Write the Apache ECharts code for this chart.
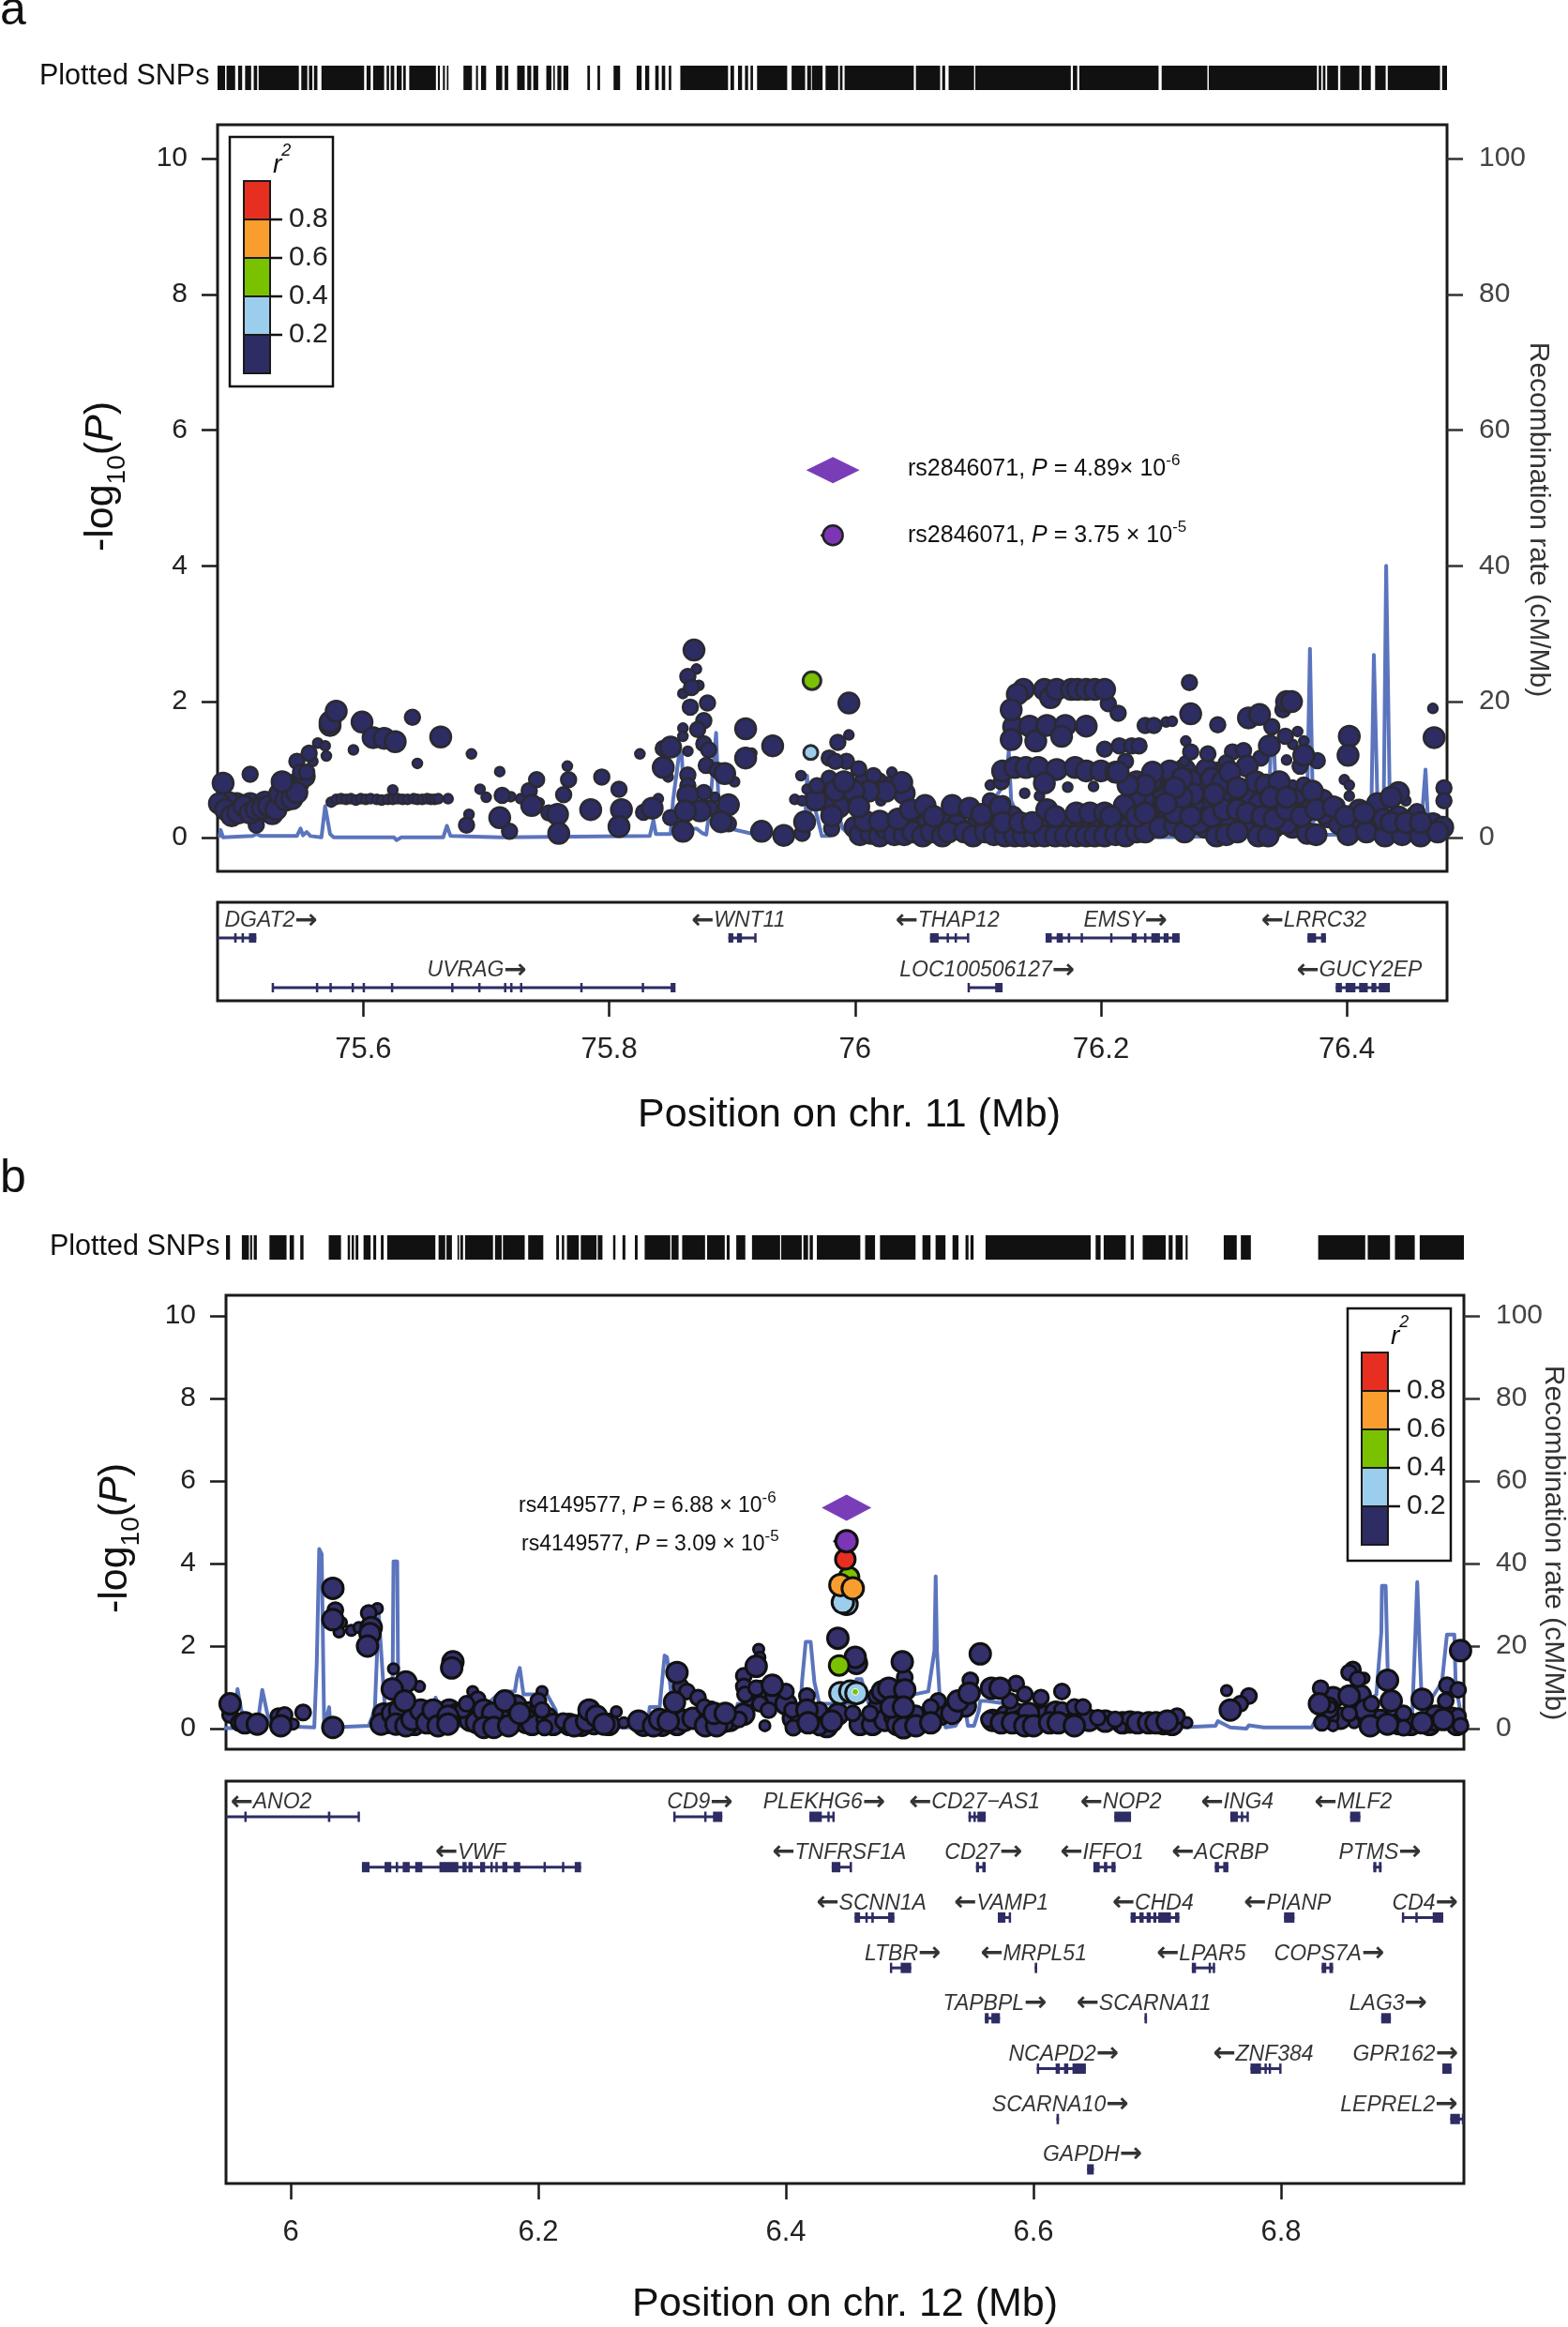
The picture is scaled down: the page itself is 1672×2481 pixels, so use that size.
<!DOCTYPE html>
<html><head><meta charset="utf-8">
<style>html,body{margin:0;padding:0;background:#fff}#c{width:1672px;height:2481px}</style>
<script src="https://cdn.jsdelivr.net/npm/echarts@6/dist/echarts.min.js"></script>
</head><body><div id="c"></div>
<script>
// ---------- Panel a: chr 11 ----------
const rugA=[[75.4811,75.4876],[75.4888,75.4958],[75.4982,75.5015],[75.5039,75.5088],[75.5109,75.5137],[75.5149,75.5476],[75.5496,75.5545],[75.5558,75.5586],[75.5599,75.5627],[75.566,75.6007],[75.6027,75.606],[75.608,75.617],[75.619,75.621],[75.6223,75.6252],[75.6272,75.6313],[75.6325,75.6346],[75.6374,75.6591],[75.6607,75.6623],[75.6648,75.6664],[75.668,75.6693],[75.6815,75.6884],[75.6917,75.6933],[75.6958,75.6999],[75.7081,75.713],[75.715,75.7179],[75.7252,75.7313],[75.7334,75.7366],[75.7383,75.7423],[75.7489,75.753],[75.7546,75.7558],[75.7579,75.7611],[75.7628,75.7668],[75.7823,75.7844],[75.7905,75.7926],[75.8036,75.8089],[75.8224,75.8264],[75.8293,75.8326],[75.8375,75.8403],[75.8428,75.8456],[75.8485,75.8505],[75.8579,75.8967],[75.8987,75.9016],[75.9048,75.9081],[75.9105,75.913],[75.915,75.917],[75.9203,75.9448],[75.9484,75.9594],[75.9611,75.9642],[75.9649,75.9736],[75.976,75.9863],[75.9877,75.9898],[75.9915,76.0478],[76.0495,76.0692],[76.0709,76.0733],[76.0761,76.0968],[76.0978,76.1755],[76.1772,76.1807],[76.1824,76.2469],[76.2494,76.2866],[76.2877,76.3757],[76.3771,76.3792],[76.3805,76.3826],[76.384,76.3929],[76.3947,76.4102],[76.412,76.4195],[76.423,76.4316],[76.4333,76.4758],[76.4775,76.4815]];
const snpA_large=[[75.486,.80],[75.483,.50],[75.488,.41],[75.493,.32],[75.498,.36],[75.503,.46],[75.508,.36],[75.513,.41],[75.518,.43],[75.523,.46],[75.529,.41],[75.532,.64],[75.537,.55],[75.542,.57],[75.546,.66],[75.534,.82],[75.573,1.65],[75.573,1.70],[75.578,1.86],[75.599,1.70],[75.608,1.47],[75.617,1.46],[75.626,1.41],[75.663,1.48],[75.711,.29],[75.737,.47],[75.758,.34],[75.759,.06],[75.785,.41],[75.810,.41],[75.808,.16],[75.835,.43],[75.850,1.33],[75.844,1.03],[75.869,2.76],[75.894,.94],[75.864,.62],[75.874,.39],[75.862,.39],[75.860,.09],[75.897,.48],[75.891,.23],[75.911,1.60],[75.911,1.17],[75.933,1.35],[75.924,.09],[75.942,.03],[75.959,.23],[75.984,.69],[75.981,.32],[75.995,1.98],[76.005,.64],
[76.137,2.18],[76.132,2.11],[76.154,2.18],[76.159,2.06],[76.164,2.18],[76.176,2.18],[76.181,2.18],[76.188,2.18],[76.195,2.18],[76.203,2.18],[76.129,1.63],[76.127,1.88],[76.127,1.44],[76.142,1.64],[76.147,1.42],[76.156,1.65],[76.171,1.65],[76.168,1.49],[76.188,1.64],[76.120,.98],[76.130,1.03],[76.139,1.03],[76.149,1.03],[76.164,1.00],[76.179,1.03],[76.188,.98],[76.200,.98],[76.212,.96],[76.154,.80],[76.241,.84],[76.256,.98],[76.273,1.82],[76.273,.84],[76.275,.64],[76.038,.81],[76.320,1.76],[76.329,1.81],[76.337,1.35],[76.319,1.05],[76.365,1.21],[76.372,.68],[76.402,1.49],[76.401,1.21],[76.442,.66],[76.436,.59],[76.471,1.47],[76.351,2.00],[76.355,2.00],
[76.004,.04],[76.013,.06],[76.020,.02],[76.025,.13],[76.032,.04],[76.040,.04],[76.047,.08],[76.055,.02],[76.062,.08],[76.071,.02],[76.076,.08],[76.089,.08],[76.096,.02],[76.106,.08],[76.113,.04],[76.122,.02],[76.130,.02],[76.137,.02],[76.146,.02],[76.154,.02],[76.163,.02],[76.171,.02],[76.180,.02],[76.188,.02],[76.195,.02],[76.203,.02],[76.212,.04],[76.220,.02],[76.229,.08],[76.236,.08],[76.248,.15],[76.260,.18],[76.268,.08],[76.280,.22],[76.294,.02],[76.302,.04],[76.311,.08],[76.328,.02],[76.336,.02],[76.351,.20],[76.368,.06],[76.375,.04],[76.401,.04],[76.416,.08],[76.431,.02],[76.445,.04],[76.460,.02],[76.474,.08],
[76.008,.24],[76.020,.24],[76.035,.27],[76.045,.41],[76.057,.47],[76.064,.31],[76.079,.47],[76.093,.43],[76.103,.34],[76.118,.45],[76.120,.22],[76.134,.22],[76.144,.22],[76.156,.41],[76.163,.31],[76.180,.36],[76.191,.36],[76.203,.36],[76.219,.47],[76.208,.31],[76.229,.31],[76.236,.36],[76.253,.45],[76.260,.36],[76.273,.31],[76.290,.31],[76.300,.41],[76.311,.41],[76.319,.36],[76.331,.31],[76.341,.27],[76.351,.41],[76.363,.31],[76.375,.41],[76.389,.45],[76.399,.31],[76.414,.36],[76.430,.27],[76.436,.22],[76.448,.22],[76.460,.22],
[76.290,.87],[76.299,.82],[76.292,.64],[76.305,.96],[76.326,.82],[76.311,.73],[76.334,.77],[76.345,.82],[76.338,.59],[76.351,.59],[76.229,.82],[76.242,.96],[76.266,.87],[76.266,.59],[76.260,.73],[76.253,.50],[76.236,.77],[76.222,.77],[76.214,.96],[76.025,.68],[76.011,.68],[75.999,.68],[76.003,.45],[75.991,.82]];
const snpA_band=[[76.000,.15],[76.016,.14],[76.028,.16],[76.036,.15],[76.044,.18],[76.052,.14],[76.059,.2],[76.067,.17],[76.074,.22],[76.083,.18],[76.100,.2],[76.110,.16],[76.116,.14],[76.125,.12],[76.128,.3],[76.140,.12],[76.150,.12],[76.158,.14],[76.168,.15],[76.175,.16],[76.184,.14],[76.192,.12],[76.199,.15],[76.207,.14],[76.216,.16],[76.224,.17],[76.232,.2],[76.240,.22],[76.252,.22],[76.264,.25],[76.276,.2],[76.285,.15],[76.297,.14],[76.306,.2],[76.316,.18],[76.323,.15],[76.332,.14],[76.340,.14],[76.346,.22],[76.356,.15],[76.359,.4],[76.370,.5],[76.380,.55],[76.385,.3],[76.394,.2],[76.406,.18],[76.410,.4],[76.420,.3],[76.425,.5],[76.437,.1],[76.442,.3],[76.452,.12],[76.456,.3],[76.465,.1],[76.470,.2],[76.478,.15],
[76.295,.55],[76.302,.5],[76.314,.6],[76.322,.6],[76.329,.5],[76.340,.45],[76.347,.6],[76.356,.55],[76.360,.65],[76.283,.45],[76.275,.5],[76.247,.5],[76.235,.55],[76.228,.6],[76.248,.8],[76.262,.9],[76.280,.7],[76.296,.95],[76.286,1.0],[76.268,1.0],[76.250,.7],[76.243,.82],
[75.995,.55],[75.987,.45],[76.002,.6],[76.018,.8],[76.030,.75],[76.040,.65],[76.008,.8],[75.975,.55],[75.968,.55],[75.988,.78],[75.497,.5],[75.508,.5],[75.520,.52],[75.530,.52],[75.490,.52],[75.502,.38],[75.514,.35],[75.526,.35],[75.539,.7],[75.547,.8],[75.552,.9]];
const snpA_mid=[[75.508,.93],[75.513,.18],[75.546,1.12],[75.549,.96],[75.554,.96],[75.556,1.24],[75.640,1.77],[75.684,.18],[75.719,.09],[75.713,.62],[75.735,.69],[75.741,.85],[75.751,.36],[75.767,.85],[75.763,.63],[75.794,.89],[75.808,.71],[75.828,.37],[75.844,1.31],[75.864,2.37],[75.867,2.21],[75.866,1.92],[75.880,1.98],[75.877,1.72],[75.872,1.59],[75.877,1.38],[75.881,1.29],[75.864,.92],[75.879,1.06],[75.888,.99],[75.864,.76],[75.877,.66],[75.850,.29],[75.882,.43],[75.897,.20],[75.957,.06],[75.969,.76],[75.979,1.17],[75.986,1.40],[75.993,1.12],[75.984,1.12],[75.979,.87],[75.981,.13],[76.003,1.01],
[76.206,1.97],[76.214,1.83],[76.203,1.30],[76.215,1.35],[76.225,1.35],[76.231,1.35],[76.220,1.12],[76.236,1.65],[76.243,1.65],[76.272,2.28],[76.295,1.66],[76.273,1.26],[76.287,1.23],[76.307,1.26],[76.316,1.28],[76.302,1.10],[76.339,1.63],[76.350,1.49],[76.330,1.17],[76.348,1.88],[76.376,1.13],[76.362,1.05],[76.365,.77],[76.392,.47],[76.382,.31],[76.415,.38],[76.457,.38],[76.479,.73],[76.479,.54],[76.476,.08],[76.119,.82],[76.120,.50],[76.110,.54],[76.015,.91]];
const snpA_small=[[75.563,1.39],[75.559,1.12],[75.569,1.35],[75.570,1.20],[75.592,1.29],[75.644,1.09],[75.688,1.23],[75.624,.70],[75.669,.57],[75.686,.34],[75.695,.71],[75.700,.59],[75.711,.97],[75.720,.60],[75.728,.57],[75.743,.51],[75.766,1.05],[75.840,.57],[75.825,1.23],[75.848,.89],[75.871,2.48],[75.873,2.24],[75.860,2.12],[75.860,1.61],[75.860,1.49],[75.864,1.27],[75.886,.59],[75.902,.82],[75.916,1.24],[75.956,.91],[75.961,.71],[75.951,.56],[75.957,.54],[75.995,1.51],[75.995,.88],
[75.574,.52],[75.578,.56],[75.582,.57],[75.586,.56],[75.590,.57],[75.594,.55],[75.598,.57],[75.602,.56],[75.606,.57],[75.611,.56],[75.615,.55],[75.620,.56],[75.624,.56],[75.628,.57],[75.632,.56],[75.636,.56],[75.641,.57],[75.644,.56],[75.648,.56],[75.652,.57],[75.655,.56],[75.658,.56],[75.661,.57],
[76.138,.65],[76.150,.61],[76.173,.74],[76.194,.75],[76.110,.77],[76.253,1.70],[76.258,1.71],[76.269,1.42],[76.268,1.12],[76.360,1.56],[76.365,1.42],[76.356,1.37],[76.351,1.14],[76.398,.85],[76.402,.77],[76.402,.61],[76.448,.54],[76.462,.24],[76.470,1.90],[75.994,1.14],[76.004,1.03],[76.030,.96],[76.021,.54],[76.356,.77]];
const snpA_green=[[75.965,2.31]];
const snpA_blue=[[75.964,1.25]];
const leadA_circle=[[75.982,4.45]];
const leadA_diamond=[[75.982,5.41]];
const recombA=[[75.483,0],[75.484,1.1],[75.486,0],[75.510,.2],[75.513,.5],[75.517,.2],[75.546,.2],[75.549,1.3],[75.551,.3],[75.554,.8],[75.557,.2],[75.566,0],[75.569,4.6],[75.573,.5],[75.576,0],[75.625,0],[75.627,-.4],[75.631,0],[75.665,0],[75.668,1.7],[75.671,.2],[75.711,0],[75.833,.2],[75.836,2.5],[75.838,.5],[75.850,.5],[75.852,5.5],[75.857,12.4],[75.859,12.4],[75.862,1.3],[75.871,1.3],[75.876,.6],[75.879,.4],[75.882,4.6],[75.887,15.4],[75.889,4.6],[75.898,1.3],[75.915,.6],[75.959,.6],[75.961,9.1],[75.963,3.6],[75.966,5.2],[75.969,3.2],[75.973,.2],[75.979,.2],[75.981,8.2],[75.986,3.6],[75.990,1.3],[75.996,.4],[76.093,.4],[76.123,8.2],[76.125,12.8],[76.127,5.4],[76.140,.3],[76.236,0],[76.280,.1],[76.336,.4],[76.338,12.4],[76.341,12.4],[76.343,3.6],[76.362,.1],[76.368,8.2],[76.370,27.8],[76.372,8.2],[76.373,.4],[76.416,.4],[76.420,4.5],[76.422,26.9],[76.425,4.5],[76.428,3.6],[76.430,4.5],[76.432,40],[76.435,4.5],[76.440,.4],[76.460,.4],[76.464,10],[76.466,2.7],[76.471,.4],[76.481,.4]];
const genesA=[
{name:'DGAT2',dir:1,label:75.525,row:0,span:[75.4815,75.513],exons:[[75.495,75.497],[75.501,75.503],[75.507,75.513]]},
{name:'UVRAG',dir:1,label:75.6925,row:1,span:[75.526,75.853],exons:[[75.5255,75.5265],[75.5615,75.5625],[75.5725,75.5735],[75.5905,75.5915],[75.5995,75.6005],[75.6225,75.6235],[75.6715,75.6725],[75.6935,75.6945],[75.7145,75.7155],[75.7195,75.7205],[75.7275,75.7285],[75.7765,75.7775],[75.8265,75.8275],[75.850,75.854]]},
{name:'WNT11',dir:-1,label:75.905,row:0,span:[75.897,75.919],exons:[[75.897,75.901],[75.904,75.908],[75.918,75.919]]},
{name:'THAP12',dir:-1,label:76.075,row:0,span:[76.061,76.092],exons:[[76.061,76.068],[76.0745,76.0755],[76.081,76.082],[76.091,76.092]]},
{name:'EMSY',dir:1,label:76.22,row:0,span:[76.155,76.264],exons:[[76.155,76.160],[76.164,76.169],[76.173,76.175],[76.1835,76.1845],[76.2075,76.2085],[76.225,76.229],[76.235,76.237],[76.241,76.248],[76.251,76.255],[76.258,76.264]]},
{name:'LRRC32',dir:-1,label:76.373,row:0,span:[76.368,76.383],exons:[[76.368,76.375],[76.379,76.383]]},
{name:'LOC100506127',dir:1,label:76.1075,row:1,span:[76.092,76.120],exons:[[76.0915,76.0925],[76.114,76.120]]},
{name:'GUCY2EP',dir:-1,label:76.41,row:1,span:[76.391,76.435],exons:[[76.391,76.396],[76.399,76.407],[76.410,76.417],[76.420,76.424],[76.426,76.435]]}];

// ---------- Panel b: chr 12 ----------
const rugB=[[5.9477,5.9509],[5.9605,5.9662],[5.9672,5.9688],[5.9701,5.9726],[5.9828,5.9966],[5.9991,6.0026],[6.0077,6.0103],[6.0307,6.0406],[6.046,6.0479],[6.0492,6.0511],[6.0524,6.0546],[6.0588,6.0645],[6.0667,6.069],[6.0728,6.075],[6.0779,6.1168],[6.1194,6.1248],[6.1258,6.1302],[6.1347,6.136],[6.137,6.1392],[6.1408,6.1634],[6.165,6.1704],[6.1714,6.189],[6.1918,6.204],[6.2145,6.2167],[6.219,6.2209],[6.2231,6.2327],[6.2343,6.247],[6.248,6.2518],[6.2604,6.2623],[6.268,6.2703],[6.278,6.2802],[6.2859,6.3066],[6.3076,6.3133],[6.3162,6.3347],[6.3363,6.3506],[6.3522,6.3545],[6.3599,6.3672],[6.3726,6.3953],[6.3962,6.4128],[6.4141,6.4179],[6.4192,6.4218],[6.425,6.4601],[6.464,6.472],[6.476,6.5047],[6.5103,6.5168],[6.5209,6.5289],[6.5346,6.5394],[6.5451,6.5475],[6.5491,6.5516],[6.5613,6.6462],[6.6502,6.6542],[6.6567,6.6745],[6.6785,6.681],[6.6882,6.7068],[6.7092,6.7124],[6.7148,6.7205],[6.7229,6.7245],[6.7537,6.7642],[6.7675,6.7756],[6.830,6.868],[6.870,6.888],[6.892,6.908],[6.912,6.948]];
const snpB_large=[[5.951,.60],[5.963,.14],[5.973,.11],[5.992,.07],[6.034,3.40],[6.034,2.64],[6.065,2.45],[6.064,2.30],[6.062,2.0],[6.034,.03],[6.093,1.13],[6.082,.96],[6.131,1.62],[6.130,1.47],[6.073,.11],[6.082,.37],[6.088,.45],[6.085,.11],[6.093,.07],[6.098,.22],[6.105,.45],[6.110,.14],[6.115,.45],[6.119,.07],[6.127,.30],[6.127,.11],[6.092,.67],[6.156,.45],[6.163,.37],[6.156,.03],[6.164,.03],[6.173,.67],[6.176,.07],[6.185,.37],[6.229,.07],[6.239,.18],[6.241,.45],[6.247,.30],[6.253,.11],[6.281,.18],[6.293,.07],[6.298,.22],[6.305,.18],[6.312,1.36],[6.310,.64],[6.335,.07],[6.344,.07],[6.342,.37],[6.351,.37],[6.376,1.51],[6.389,1.05],[6.417,.45],[6.418,.14],[6.437,.18],[6.442,2.19],[6.457,1.58],[6.456,1.73],
[6.478,.90],[6.483,.98],[6.485,.52],[6.494,1.62],[6.496,.94],[6.495,.52],[6.495,.02],[6.505,.07],[6.517,.14],[6.534,.37],[6.539,.67],[6.548,.86],[6.557,1.81],[6.566,.98],[6.573,.98],[6.574,.14],[6.596,.37],[6.583,.14],[6.593,.07],[6.600,.07],[6.613,.14],[6.620,.14],[6.633,.07],[6.684,.14],[6.693,.14],[6.699,.14],[6.708,.18],[6.759,.45],[6.831,.60],[6.855,.79],[6.872,.07],[6.886,1.17],[6.889,.67],[6.886,.11],[6.914,.71],[6.914,.14],[6.931,.22],[6.945,1.89]];
const snpB_band=[[6.075,.35],[6.078,.15],[6.090,.15],[6.095,.3],[6.100,.1],[6.104,.25],[6.108,.38],[6.112,.28],[6.122,.28],[6.128,.45],[6.135,.35],[6.145,.2],[6.150,.15],[6.160,.15],[6.168,.2],[6.170,.45],[6.178,.3],[6.182,.55],[6.190,.15],[6.195,.1],[6.207,.25],[6.212,.1],[6.225,.1],[6.235,.08],[6.245,.12],[6.257,.1],[6.285,.08],[6.300,.08],[6.312,.1],[6.318,.2],[6.325,.25],[6.338,.2],[6.347,.2],[6.355,.2],[6.366,.35],[6.372,.8],[6.380,.9],[6.392,.8],[6.400,.6],[6.406,.25],[6.412,.3],[6.422,.35],[6.428,.2],[6.433,.05],[6.442,.35],[6.460,.1],[6.470,.1],[6.475,.5],[6.480,.2],[6.488,.3],[6.490,.1],[6.500,.2],[6.510,.25],[6.525,.35],[6.545,.55],[6.567,.2],[6.578,.3],[6.586,.35],[6.590,.2],[6.603,.3],[6.610,.3],[6.618,.4],[6.628,.2],[6.637,.2],[6.645,.2],[6.658,.18],[6.672,.14],[6.678,.16],[6.705,.12],[6.712,.1],[6.880,.2],[6.895,.12],[6.905,.1],[6.920,.1],[6.925,.3],[6.938,.25],[6.942,.1],[6.848,.25],[6.838,.3],[6.842,.75],[6.838,.5],[6.866,.4],[6.864,.8],[6.868,.45]];
const snpB_mid=[[5.951,.33],[5.958,.14],[5.990,.30],[5.995,.33],[6.010,.39],[6.036,2.87],[6.063,2.80],[6.139,.45],[6.151,.71],[6.142,.60],[6.192,.45],[6.200,.52],[6.200,.67],[6.205,.03],[6.203,.45],[6.220,.18],[6.315,1.02],[6.320,.90],[6.329,.75],[6.334,.52],[6.351,.11],[6.362,.22],[6.366,1.28],[6.366,1.02],[6.367,.83],[6.376,.98],[6.379,.60],[6.386,.45],[6.400,.90],[6.405,.45],[6.406,.02],[6.417,.79],[6.427,.45],[6.427,.03],
[6.468,.37],[6.454,.37],[6.473,.79],[6.496,1.24],[6.505,.37],[6.523,.67],[6.517,.52],[6.549,1.17],[6.564,.22],[6.586,1.09],[6.581,.67],[6.593,.83],[6.606,.75],[6.623,.90],[6.623,.45],[6.633,.52],[6.640,.52],[6.652,.26],[6.666,.22],[6.716,.30],[6.774,.79],[6.767,.60],[6.832,.98],[6.833,.14],[6.858,1.43],[6.855,1.36],[6.862,1.20],[6.855,.37],[6.873,.60],[6.899,.37],[6.899,.02],[6.924,.14],[6.934,1.05],[6.943,.94],[6.933,.67],[6.943,.30],[6.945,.07]];
const snpB_small=[[6.002,.11],[6.038,3.36],[6.041,2.57],[6.039,2.34],[6.049,2.38],[6.055,2.45],[6.070,2.91],[6.083,1.45],[6.104,1.02],[6.147,.90],[6.203,.90],[6.263,.41],[6.269,.14],[6.340,.52],[6.378,1.92],[6.379,1.73],[6.383,.07],[6.671,.02],[6.724,.14],[6.756,.92],[6.840,.52],[6.842,.07],[6.867,1.22],[6.859,.14]];
const snpB_grey=[[6.322,.26]];
const snpB_blue=[[6.449,3.02],[6.446,3.06],[6.444,.86],[6.452,.90],[6.457,.86]];
const snpB_green=[[6.451,3.67],[6.443,1.53]];
const snpB_orange=[[6.444,3.48],[6.454,3.40]];
const snpB_red=[[6.448,4.10]];
const snpB_greenDot=[[6.456,.89]];
const leadB_circle=[[6.449,4.54]];
const leadB_diamond=[[6.449,5.35]];
const recombB=[[5.946,.1],[5.953,.1],[5.957,9.6],[5.960,4.5],[5.965,.1],[5.973,.7],[5.977,9.4],[5.981,3.7],[5.985,.7],[6.019,.3],[6.021,15.8],[6.023,43.5],[6.025,42.3],[6.027,.3],[6.028,.3],[6.031,5.2],[6.032,.3],[6.063,.7],[6.066,3],[6.068,5.2],[6.071,28],[6.073,18.9],[6.077,.7],[6.082,.7],[6.083,40.5],[6.086,40.5],[6.087,.7],[6.115,.7],[6.117,7.5],[6.120,5.2],[6.124,.7],[6.139,.7],[6.170,9],[6.181,9],[6.183,12.8],[6.185,14.7],[6.188,8.3],[6.207,8.3],[6.214,4.5],[6.217,.3],[6.288,.3],[6.290,5.2],[6.298,5.2],[6.302,17.7],[6.304,17.3],[6.308,6.7],[6.312,.7],[6.359,.7],[6.361,6],[6.366,6],[6.412,6],[6.413,11.3],[6.416,21],[6.420,21],[6.423,11.3],[6.427,6],[6.454,6],[6.457,12],[6.461,12],[6.467,6],[6.515,9],[6.520,18.9],[6.521,36.9],[6.522,18.9],[6.524,9],[6.529,.3],[6.537,.7],[6.545,4.5],[6.547,.7],[6.552,.7],[6.556,4.5],[6.557,6.7],[6.562,6.7],[6.718,.3],[6.747,.7],[6.749,1.8],[6.759,.3],[6.772,0],[6.774,.8],[6.786,.3],[6.825,.3],[6.828,2.2],[6.850,.7],[6.877,8.3],[6.881,23.4],[6.8815,34.6],[6.8845,34.6],[6.886,15.8],[6.887,3.7],[6.906,3.7],[6.908,18.9],[6.910,35.5],[6.912,18.9],[6.914,3.7],[6.930,11.3],[6.934,22.8],[6.940,22.8],[6.941,11.3],[6.945,3.7],[6.948,.3]];
const genesB=[
{name:'ANO2',dir:-1,label:5.984,row:0,span:[5.9477,6.055],exons:[[5.9625,5.9635],[6.030,6.032],[6.054,6.055]]},
{name:'VWF',dir:-1,label:6.145,row:1,span:[6.0575,6.2345],exons:[[6.0575,6.0636],[6.0758,6.0812],[6.0848,6.0858],[6.0904,6.0961],[6.1005,6.1063],[6.1201,6.1354],[6.1387,6.1421],[6.1435,6.1469],[6.153,6.157],[6.1613,6.1623],[6.1653,6.1663],[6.1709,6.175],[6.18,6.1854],[6.2042,6.2052],[6.2191,6.2201],[6.2294,6.2345]]},
{name:'CD9',dir:1,label:6.3306,row:0,span:[6.3096,6.3486],exons:[[6.309,6.310],[6.334,6.335],[6.3411,6.3486]]},
{name:'PLEKHG6',dir:1,label:6.431,row:0,span:[6.419,6.438],exons:[[6.419,6.429],[6.4335,6.4345],[6.4375,6.4385]]},
{name:'TNFRSF1A',dir:-1,label:6.443,row:1,span:[6.437,6.452],exons:[[6.437,6.444],[6.4515,6.4525]]},
{name:'SCNN1A',dir:-1,label:6.469,row:2,span:[6.4555,6.4876],exons:[[6.4555,6.4599],[6.4642,6.4650],[6.469,6.471],[6.4826,6.4876]]},
{name:'LTBR',dir:1,label:6.4944,row:3,span:[6.4843,6.5012],exons:[[6.484,6.4848],[6.4927,6.5012]]},
{name:'TAPBPL',dir:1,label:6.5689,row:4,span:[6.5607,6.5729],exons:[[6.5607,6.5638],[6.566,6.5729]]},
{name:'CD27\u2212AS1',dir:-1,label:6.5523,row:0,span:[6.5475,6.5614],exons:[[6.5475,6.5495],[6.5515,6.5530],[6.5547,6.5614]]},
{name:'CD27',dir:1,label:6.5597,row:1,span:[6.5536,6.5614],exons:[[6.5536,6.556],[6.5587,6.5614]]},
{name:'VAMP1',dir:-1,label:6.5739,row:2,span:[6.5712,6.5807],exons:[[6.5712,6.5773],[6.580,6.5807]]},
{name:'MRPL51',dir:-1,label:6.6,row:3,span:[6.601,6.603],exons:[[6.601,6.603]]},
{name:'NCAPD2',dir:1,label:6.6244,row:5,span:[6.6027,6.6423],exons:[[6.6027,6.6041],[6.6179,6.6213],[6.6247,6.6281],[6.6315,6.6423]]},
{name:'SCARNA10',dir:1,label:6.6217,row:6,span:[6.6186,6.6206],exons:[[6.6186,6.6206]]},
{name:'GAPDH',dir:1,label:6.6477,row:7,span:[6.6433,6.6487],exons:[[6.6433,6.6487]]},
{name:'NOP2',dir:-1,label:6.6704,row:0,span:[6.6653,6.6788],exons:[[6.6653,6.6788]]},
{name:'IFFO1',dir:-1,label:6.6552,row:1,span:[6.6484,6.6663],exons:[[6.6484,6.6535],[6.6569,6.6596],[6.663,6.6663]]},
{name:'SCARNA11',dir:-1,label:6.689,row:4,span:[6.6897,6.6917],exons:[[6.6897,6.6917]]},
{name:'CHD4',dir:-1,label:6.6964,row:2,span:[6.6785,6.7178],exons:[[6.6785,6.6826],[6.6856,6.689],[6.6914,6.6948],[6.6968,6.6992],[6.7008,6.711],[6.7144,6.7178]]},
{name:'ING4',dir:-1,label:6.7645,row:0,span:[6.759,6.7726],exons:[[6.759,6.7651],[6.7675,6.7685],[6.7721,6.7731]]},
{name:'ACRBP',dir:-1,label:6.7506,row:1,span:[6.7465,6.7574],exons:[[6.7465,6.7499],[6.7533,6.7574]]},
{name:'LPAR5',dir:-1,label:6.7354,row:3,span:[6.7279,6.7465],exons:[[6.7279,6.7313],[6.7415,6.7425],[6.7448,6.7465]]},
{name:'PIANP',dir:-1,label:6.8051,row:2,span:[6.8024,6.8108],exons:[[6.8024,6.8108]]},
{name:'ZNF384',dir:-1,label:6.7855,row:5,span:[6.7753,6.799],exons:[[6.7753,6.7838],[6.7866,6.7876],[6.79,6.791],[6.7985,6.7995]]},
{name:'COPS7A',dir:1,label:6.8389,row:3,span:[6.8328,6.842],exons:[[6.8328,6.8365],[6.839,6.842]]},
{name:'MLF2',dir:-1,label:6.8582,row:0,span:[6.8558,6.864],exons:[[6.8558,6.864]]},
{name:'PTMS',dir:1,label:6.8799,row:1,span:[6.8745,6.8812],exons:[[6.8745,6.877],[6.879,6.8812]]},
{name:'LAG3',dir:1,label:6.8866,row:4,span:[6.8809,6.8887],exons:[[6.8809,6.8887]]},
{name:'CD4',dir:1,label:6.9164,row:2,span:[6.8981,6.931],exons:[[6.8976,6.8986],[6.9085,6.9095],[6.9225,6.931]]},
{name:'GPR162',dir:1,label:6.9005,row:5,span:[6.9303,6.9377],exons:[[6.9303,6.9377]]},
{name:'LEPREL2',dir:1,label:6.8954,row:6,span:[6.9367,6.948],exons:[[6.9367,6.9445],[6.946,6.948]]}];

const yTicks=[0,2,4,6,8,10];
const rTicks=[0,20,40,60,80,100];
const xTicksA=[75.6,75.8,76,76.2,76.4];
const xTicksB=[6,6.2,6.4,6.6,6.8];
const ldBreaks=['0.8','0.6','0.4','0.2'];
const ldColors=['#e62f20','#f99e2e','#7ac200','#9bcdec','#2d2c63'];

// ---------- helpers ----------
const FONT='Liberation Sans';
const NAVY='#2d2c63',BLUE='#5b74bd',LINE='#1a1a1a';
const grids=[],xAxes=[],yAxes=[],series=[],graphic=[];
function addGrid(box,border){grids.push(Object.assign({containLabel:false,outerBoundsMode:'none',show:!!border,borderColor:LINE,borderWidth:border||0,backgroundColor:'transparent'},box));return grids.length-1;}
function hiddenX(g,range){xAxes.push({gridIndex:g,type:'value',min:range[0],max:range[1],show:false,splitLine:{show:false}});return xAxes.length-1;}
function hiddenY(g,min,max,inv){yAxes.push({gridIndex:g,type:'value',min:min,max:max,inverse:!!inv,show:false,splitLine:{show:false}});return yAxes.length-1;}
function dots(xi,yi,data,size,fill,stroke,bw,z,symbol){series.push({type:'scatter',xAxisIndex:xi,yAxisIndex:yi,data:data,symbol:symbol||'circle',symbolSize:size,itemStyle:{color:fill,borderColor:stroke,borderWidth:bw,opacity:1},silent:true,z:z,animation:false});}
function bars(xi,yi,data,h,color,z,min){series.push({type:'custom',xAxisIndex:xi,yAxisIndex:yi,data:data,silent:true,z:z,animation:false,clip:true,encode:{x:[0,1],y:2},
 renderItem:(p,api)=>{const a=api.coord([api.value(0),api.value(2)]),b=api.coord([api.value(1),api.value(2)]);const hh=h==='full'?api.size([0,1])[1]:h;return {type:'rect',shape:{x:a[0],y:a[1]-hh/2,width:Math.max(b[0]-a[0],min),height:hh},style:{fill:color}};}});}
function panel(o){
 // rug
 let g=addGrid(o.rug);let xi=hiddenX(g,o.range),yi=hiddenY(g,0,1);
 bars(xi,yi,o.rugData.map(r=>[r[0],r[1],0.5]),'full','#111',2,1.6);
 // main
 g=addGrid(o.main,3);xi=hiddenX(g,o.range);
 yAxes.push({gridIndex:g,type:'value',min:-0.5,max:10.5,position:'left',splitLine:{show:false},axisLine:{show:false,onZero:false},
  axisTick:{show:true,length:17,lineStyle:{color:LINE,width:2.5},customValues:yTicks},
  axisLabel:{show:true,margin:32,color:'#222',fontSize:30,fontFamily:FONT,customValues:yTicks,formatter:v=>String(v)},
  name:'{n|-log}{s|10}{n|(}{p|P}{n|)}',nameLocation:'middle',nameGap:o.yGap,nameRotate:90,nameMoveOverlap:false,
  nameTextStyle:{fontSize:43,fontFamily:FONT,color:'#111',padding:o.yPad,rich:{
   n:{fontSize:43,fontFamily:FONT,color:'#111',lineHeight:62},
   s:{fontSize:28,fontFamily:FONT,color:'#111',verticalAlign:'bottom',lineHeight:28},
   p:{fontSize:43,fontFamily:FONT,fontStyle:'italic',color:'#111',lineHeight:62}}}});
 const yL=yAxes.length-1;
 yAxes.push({gridIndex:g,type:'value',min:-5,max:105,position:'right',splitLine:{show:false},axisLine:{show:false,onZero:false},
  axisTick:{show:true,length:17,lineStyle:{color:'#333',width:2.5},customValues:rTicks},
  axisLabel:{show:true,margin:34,color:'#444',fontSize:30,fontFamily:FONT,customValues:rTicks,formatter:v=>String(v)},
  name:'Recombination rate (cM/Mb)',nameLocation:'middle',nameGap:o.rGap,nameRotate:-90,nameMoveOverlap:false,
  nameTextStyle:{fontSize:30,fontFamily:FONT,color:'#333',padding:o.rPad}});
 const yR=yAxes.length-1;
 series.push({type:'line',xAxisIndex:xi,yAxisIndex:yR,data:o.recomb,showSymbol:false,symbol:'none',silent:true,z:2,animation:false,lineStyle:{color:BLUE,width:o.lineW,join:'round'},clip:true});
 const s=o.style;
 dots(xi,yL,o.band,s.L,s.fill,s.stroke,s.bw,3);
 dots(xi,yL,o.small,s.S,s.fill,s.stroke,s.bw,3);
 dots(xi,yL,o.mid,s.M,s.fill,s.stroke,s.bw,3);
 dots(xi,yL,o.large,s.L,s.fill,s.stroke,s.bw,3);
 o.extra(xi,yL,s);
 // genes
 g=addGrid(o.gene,3);
 xAxes.push({gridIndex:g,type:'value',min:o.range[0],max:o.range[1],position:'bottom',splitLine:{show:false},axisLine:{show:false,onZero:false},
  axisTick:{show:true,length:17,lineStyle:{color:LINE,width:2.5},customValues:o.xTicks},
  axisLabel:{show:true,margin:37,color:'#222',fontSize:31,fontFamily:FONT,customValues:o.xTicks,formatter:v=>String(v)},
  name:o.xName,nameLocation:'middle',nameGap:o.xGap,nameMoveOverlap:false,nameTextStyle:{fontSize:43,fontFamily:FONT,color:'#111',padding:o.xPad}});
 xi=xAxes.length-1;
 yi=hiddenY(g,o.geneY[0],o.geneY[1],true);
 bars(xi,yi,o.genes.map(t=>[t.span[0],t.span[1],t.row]),3,NAVY,3,2);
 const ex=[];o.genes.forEach(t=>t.exons.forEach(e=>ex.push([e[0],e[1],t.row])));
 bars(xi,yi,ex,o.exonH,NAVY,3,2.5);
 series.push({type:'scatter',xAxisIndex:xi,yAxisIndex:yi,symbolSize:1,silent:true,z:5,animation:false,clip:false,itemStyle:{color:'rgba(0,0,0,0)'},
  data:o.genes.map(t=>({value:[t.label,t.row],gene:t.name,dir:t.dir})),
  label:{show:true,position:'inside',offset:[0,o.geneOff],formatter:p=>p.data.dir<0?`{a|\u2190}{g|${p.data.gene}}`:`{g|${p.data.gene}}{a|\u2192}`,
   rich:{g:{fontFamily:FONT,fontStyle:'italic',fontSize:o.geneFont,color:'#000'},a:{fontFamily:'DejaVu Sans',fontWeight:'bold',fontSize:o.geneFont+6,color:'#000'}}}});
}
function txt(x,y,text,size,extra){graphic.push({type:'text',x:x,y:y,silent:true,style:Object.assign({text:text,fontFamily:FONT,fontSize:size,fill:'#111',verticalAlign:'middle',align:'left'},extra||{})});}
function ldLegend(x0,y0,h){ // x0,y0 = legend box top-left
 graphic.push({type:'rect',silent:true,shape:{x:x0,y:y0,width:110,height:h},style:{fill:'#fff',stroke:'#111',lineWidth:2.5},z:20});
 const bx=x0+15,by=y0+47,bw=28,seg=41;
 ldColors.forEach((c,i)=>graphic.push({type:'rect',silent:true,z:21,shape:{x:bx,y:by+i*seg,width:bw,height:seg},style:{fill:c,stroke:'#1a1a1a',lineWidth:2}}));
 ldBreaks.forEach((b,i)=>{const yy=by+(i+1)*seg;
  graphic.push({type:'line',silent:true,z:22,shape:{x1:bx+bw,y1:yy,x2:bx+bw+13,y2:yy},style:{stroke:'#111',lineWidth:2.5}});
  graphic.push({type:'text',silent:true,z:22,x:x0+63,y:yy,style:{text:b,fontFamily:FONT,fontSize:30,fill:'#222',verticalAlign:'middle'}});});
 graphic.push({type:'text',silent:true,z:22,x:x0+46,y:y0+6,style:{rich:{r:{fontFamily:FONT,fontStyle:'italic',fontSize:28,fill:'#111',padding:[10,0,0,0]},t:{fontFamily:FONT,fontStyle:'italic',fontSize:18,fill:'#111',verticalAlign:'top'}},text:'{r|r}{t|2}',fontFamily:FONT}});
}
function pvalue(x,y,head,val,exp,size){
 graphic.push({type:'text',silent:true,z:22,x:x,y:y,style:{text:`{n|${head}, }{p|P}{n| = ${val} 10}{e|${exp}}`,verticalAlign:'middle',
  rich:{n:{fontFamily:FONT,fontSize:size,fill:'#111',lineHeight:34},p:{fontFamily:FONT,fontStyle:'italic',fontSize:size,fill:'#111',lineHeight:34},e:{fontFamily:FONT,fontSize:17,fill:'#111',verticalAlign:'top',lineHeight:34}}}});
}

// ---------- build panels ----------
panel({range:[75.4815,76.4815],rugData:rugA,
 rug:{left:232,top:70,width:1311,height:26},main:{left:232,top:133,width:1311,height:796},gene:{left:232,top:962,width:1311,height:105},
 yGap:93,yPad:[0,0,0,46],rGap:82,rPad:[0,0,0,46],recomb:recombA,lineW:4,
 large:snpA_large,band:snpA_band,mid:snpA_mid,small:snpA_small,style:{L:22,M:16,S:10,fill:NAVY,stroke:'#2a2a30',bw:2.5},
 extra:(xi,yi,s)=>{dots(xi,yi,snpA_blue,15,ldColors[3],s.stroke,3,6);dots(xi,yi,snpA_green,19,ldColors[2],s.stroke,3,6);
  dots(xi,yi,leadA_diamond,[57,28],'#7a3db8','#7a3db8',0,7,'diamond');
  dots(xi,yi,leadA_circle.map(p=>[p[0]-.002,p[1]]),22,'#2a2a30','#2a2a30',0,6,'diamond');
  dots(xi,yi,leadA_circle,21,'#7b35b5','#222',2.5,7);},
 genes:genesA,geneY:[-0.717,1.264],exonH:10,geneFont:23,geneOff:-18,xTicks:xTicksA,xName:'Position on chr. 11 (Mb)',xGap:101,xPad:[0,0,0,36]});
panel({range:[5.9477,6.9477],rugData:rugB,
 rug:{left:241,top:1317,width:1320,height:26},main:{left:241,top:1381,width:1320,height:484},gene:{left:241,top:1899,width:1320,height:429},
 yGap:87,yPad:[0,34,0,0],rGap:80,rPad:[0,0,0,44],recomb:recombB,lineW:4,
 large:snpB_large,band:snpB_band,mid:snpB_mid,small:snpB_small,style:{L:22,M:16,S:11,fill:'#33306b',stroke:'#111',bw:3},
 extra:(xi,yi,s)=>{dots(xi,yi,snpB_grey,12,'#999','#555',1,2.5);
  dots(xi,yi,snpB_green,21,ldColors[2],s.stroke,3,6);dots(xi,yi,snpB_blue,23,ldColors[3],s.stroke,3,6);
  dots(xi,yi,snpB_orange,23,ldColors[1],s.stroke,3,7);dots(xi,yi,snpB_red,21,ldColors[0],s.stroke,3,7);
  dots(xi,yi,snpB_greenDot,7,ldColors[2],'#fff',1,8);
  dots(xi,yi,leadB_diamond,[53,28],'#7a3db8','#7a3db8',0,7,'diamond');
  dots(xi,yi,leadB_circle.map(p=>[p[0]-.002,p[1]]),24,'#111','#111',0,7,'diamond');
  dots(xi,yi,leadB_circle,23,'#7b35b5','#111',3,8);},
 genes:genesB,geneY:[-0.708,7.28],exonH:11,geneFont:23,geneOff:-15,xTicks:xTicksB,xName:'Position on chr. 12 (Mb)',xGap:108,xPad:[0,0,0,0]});

// ---------- fixed text and legends ----------
txt(0,12,'a',50);
txt(0,1257,'b',50);
txt(42,82,'Plotted SNPs',30.5);
txt(53,1330,'Plotted SNPs',30.5);
ldLegend(245,146,266);
ldLegend(1437,1395,269);
pvalue(968,500,'rs2846071','4.89\u00d7','-6',25);
pvalue(968,571,'rs2846071','3.75 \u00d7','-5',25);
pvalue(553,1606,'rs4149577','6.88 \u00d7','-6',23);
pvalue(556,1647,'rs4149577','3.09 \u00d7','-5',23);

const chart=echarts.init(document.getElementById('c'),null,{renderer:'canvas'});
chart.setOption({animation:false,backgroundColor:'#fff',grid:grids,xAxis:xAxes,yAxis:yAxes,series:series,graphic:graphic,tooltip:{show:false}});
</script></body></html>
